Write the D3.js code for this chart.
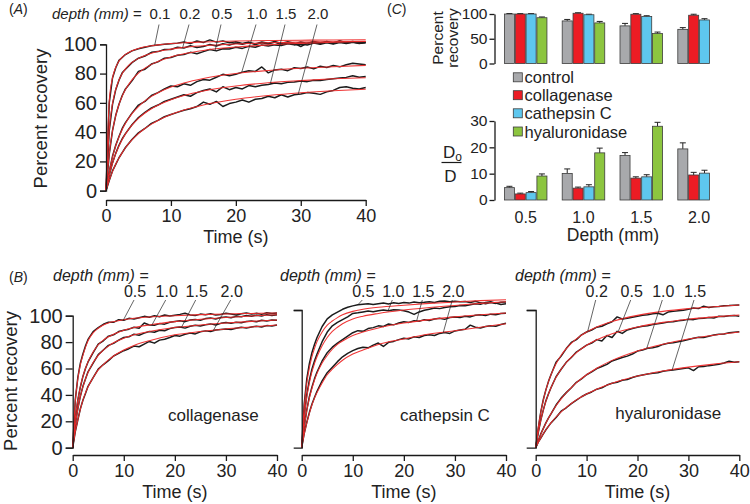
<!DOCTYPE html>
<html><head><meta charset="utf-8">
<script src="https://cdn.jsdelivr.net/npm/d3@7"></script>
<style>body{margin:0;background:#fff}svg{display:block}text{font-family:"Liberation Sans",Arial,Helvetica,sans-serif;fill:#222}</style>
</head><body><svg id="c" width="750" height="504"></svg>
<script>
// ---------- DATA ----------
const T_FIT  = [0,0.5,1,1.5,2,2.5,3,4,5,6,7,8,10,12,15,20,25,30,35,40];
const T_DATA = [0,0.5,1,1.5,2,2.5,3,4,5,6,7,8,9,10,11,12,13,14,15,16,17,18,19,20,21,22,23,24,25,26,27,28,29,30,31,32,33,34,35,36,37,38,39,40];
const X_TICKS = [0,10,20,30,40];
const Y_TICKS = [0,20,40,60,80,100];

// Panel A (control)
const A_DEPTHS = ["0.1","0.2","0.5","1.0","1.5","2.0"];
const A_FIT_01 = [0,61.2,77.0,84.3,88.5,91.2,93.1,95.6,97.2,98.3,99.0,99.6,100.5,101.1,101.6,102.2,102.6,102.8,103.0,103.1];
const A_FIT_02 = [0,41.6,59.4,69.3,75.6,80.0,83.2,87.6,90.4,92.4,93.9,95.1,96.7,97.9,99.0,100.2,101.0,101.5,101.8,102.1];
const A_FIT_05 = [0,25.2,40.8,51.3,58.9,64.6,69.1,75.7,80.3,83.7,86.3,88.3,91.4,93.5,95.8,98.1,99.6,100.6,101.4,101.9];
const A_FIT_10 = [0,13.1,23.0,30.7,36.8,41.8,46.0,52.6,57.5,61.3,64.4,66.9,70.8,73.6,76.7,80.0,82.1,83.6,84.7,85.6];
const A_FIT_15 = [0,10.5,18.7,25.2,30.5,35.0,38.8,44.8,49.4,53.1,56.0,58.4,62.2,65.0,68.1,71.5,73.7,75.2,76.4,77.2];
const A_FIT_20 = [0,7.1,13.0,18.0,22.3,26.0,29.3,34.7,39.0,42.5,45.5,48.0,52.0,55.1,58.5,62.4,65.0,66.9,68.3,69.3];
const A_DAT_01 = [0,60,77,84,89,91,93,95.5,97,98,99,99.5,100,100.3,100.8,101.5,100.6,102.2,101.2,103,101.5,102.3,101,101.8,100.6,101.5,100.2,101.6,100.8,102,100.5,101.8,100.7,98.5,100.8,101.6,100.4,102,101,102.3,100.8,101.5,100.5,101.2];
const A_DAT_02 = [0,41,59,69,75.5,80.5,83,87.5,90.5,92,94.5,95,96.5,96.5,98,97.5,99,97.8,98.5,99.8,98.8,100.4,99.5,100.8,100,101.2,99.8,101,100.2,101.5,99.6,101,100.2,101.6,100.5,102,101,101.8,100.6,102.2,101.2,102,101,101.5];
const A_DAT_05 = [0,25,41,51.5,59,65,69.5,75,81.5,83,86.5,88,90.5,91,92.5,93,94.5,93.5,95,96.5,95.5,97,96.8,98,97.2,98.6,98,99.5,98.8,99.6,99.2,100.4,99.6,100.2,99.5,100.8,100,101,100.2,101.2,100.5,101.4,100.7,101];
const A_DAT_10 = [0,13,23.5,31,37,42.5,46.5,53,58.5,61,65,67,69.5,71.5,71,73,72,74.5,76,75.5,77.5,79.5,78.5,79.5,81,82,81.5,84.5,80.5,82.5,83,82,84,83.5,84.5,83.2,85,84.2,85.5,84.6,86,87,86.5,86];
const A_DAT_15 = [0,10.5,19,25.5,31,35.5,39,45,50,53.5,56.5,58.5,61,62.5,64,65.5,64.5,67,68.5,69.5,67.5,71,69,70.5,69.5,71.8,71,72,72.5,73.5,73,74,74.2,75,74.5,75.5,75.2,76,76.5,77,77.4,78.5,77.5,78];
const A_DAT_20 = [0,7,13.5,18,22.5,26,29.5,35,39.5,42.5,46,48,50.5,52,53.5,55,56,57.5,60.5,59,61,57.5,59.5,60.5,62,60.5,62.5,63,64.5,63.5,65.5,64,65.5,66,67,66.5,65.8,67.5,68.5,70.5,71,70,69.5,70.5];

// Panel B: collagenase
const COL_DEPTHS = ["0.5","1.0","1.5","2.0"];
const COL_FIT_05 = [0,35,52,63,70,76,81,87,90.5,93,94.5,95.5,97,98,99,100,100.8,101.3,101.7,102];
const COL_FIT_10 = [0,22,36,46,54,60,65,72.5,78,81.5,84,86,89,91,93,95.5,97.3,98.7,99.8,100.7];
const COL_FIT_15 = [0,17,29,39,46,52,57,64.5,70,74,77,79.5,83,85.5,88,91,93,94.5,95.7,96.7];
const COL_FIT_20 = [0,12,21,29,36,41.5,46,53,59,63,66.5,69.5,74,77.5,81,85.5,88,90,91.5,93];
const COL_DAT_05 = [0,36,53,64,71,77,82,88,91,93.5,95,95,97,96.5,98,97.5,98.5,99.5,98.8,100,99.2,100.5,99.8,100.4,101,101.8,100.6,100.2,101.2,100.8,101.5,100.6,101,101.8,101.2,100.6,101.5,102,101.3,101.8,101,102.2,101.6,102];
const COL_DAT_10 = [0,22,36,46,54,60,65,72,78.5,81,84.5,85.5,88,89,89.8,91.2,90.5,94.5,93,92.8,94,93.6,95,95.6,96.2,95.5,96.8,97.2,96.6,97.8,98.2,97.5,98.6,99,98.4,99.5,99.2,100.2,99.6,100.4,99.8,100.8,100.2,100.8];
const COL_DAT_15 = [0,17,29.5,39,46.5,52,57.5,64,70.5,74,77.5,79,81.5,83.5,84,86,85.2,86.8,88,87.5,89,88.6,90.2,91,91.5,90.6,92,92.8,92.2,93.2,93.8,93,94.2,94.8,94.2,95,94.6,95.6,96,95.4,96.5,96,96.8,96.5];
const COL_DAT_20 = [0,12,21,29.5,36,41,46.5,53,59.5,63,66,69.5,71.5,73.5,75,77,76.5,78.5,80.5,79.2,81.5,82.2,83.5,85,84.5,86,86.8,86.2,87.8,88.5,88,89.2,89.6,90,89.5,90.5,91.2,90.6,91.5,92,91.4,92.5,92.2,93];

// Panel B: cathepsin C
const CAT_DEPTHS = ["0.5","1.0","1.5","2.0"];
const CAT_FIT_05 = [0,30,47,58,66,72,77,84,89,92,94.5,96.5,99,100.5,102,103.5,104.8,105.8,106.8,107.5];
const CAT_FIT_10 = [0,22,37,47,55,61,66,74,80,84.5,87.5,90,93.5,95.5,97.5,100,101.8,103.3,104.8,106];
const CAT_FIT_15 = [0,15,27,36,43,49,54,61.5,67,71.5,75,77.5,81.5,84,87,90.5,93,95,96.5,97.8];
const CAT_FIT_20 = [0,10,18,25,31,36,40,47,53,57,60.5,63.5,68,71,75,79,82.5,85,87.5,90];
const CAT_DAT_05 = [0,32,50,61,69,75,80,88,93.5,96.5,98.5,100.5,102,103,103.8,104.2,104.6,104,104.5,105,104.4,105.2,104.8,105.4,105,105.8,105.3,105.6,106,105.5,106.3,106.6,106,106.4,106,106.2,105.5,106.4,105.2,104.6,105.5,104.8,105.6,105.8];
const CAT_DAT_10 = [0,23,38.5,49,57,63,68,77,84,88.5,91,93,95,97.5,98,98.6,99.2,98.8,99.5,100,99.4,100.2,100,99.5,98.5,96.8,98.6,99.8,100.6,101.4,101,101.8,102.4,102.6,103.2,103,103.8,104.5,104.2,105.4,106,105,104,104.5];
const CAT_DAT_15 = [0,15.5,27.5,37,44,50,55,63,69,73,76,78.5,81,83.5,85,84.5,86.5,87.2,88.5,88,89.8,89.2,90.5,91.5,91,92.2,91.8,93,92.4,93.5,94,93.2,94.5,95,94.6,95.5,95,96.2,96.6,96,97,96.6,97.5,97.6];
const CAT_DAT_20 = [0,10.5,18.5,25.5,31.5,36.5,41,48.5,54.5,58.5,62.5,66,68.5,70.5,72,73,72.5,74.5,76,73.5,76.5,77.2,78.5,79.5,79,80.5,80,81.5,82,81.5,83,83.6,83,84.8,85.5,86,89,87.5,87,88,88.6,88.2,89.5,90.3];

// Panel B: hyaluronidase
const HYA_DEPTHS = ["0.2","0.5","1.0","1.5"];
const HYA_FIT_02 = [0,14.5,25.7,34.6,41.8,47.8,52.9,60.9,67.1,71.9,75.8,79.0,84.0,87.7,91.7,96.1,99.0,101.0,102.4,103.6];
const HYA_FIT_05 = [0,11.0,19.9,27.3,33.6,38.9,43.5,51.1,57.0,61.9,65.8,69.1,74.4,78.4,82.8,87.7,91.0,93.3,95.0,96.4];
const HYA_FIT_10 = [0,5.1,9.7,14.0,17.8,21.4,24.6,30.5,35.5,39.9,43.7,47.2,53.0,57.7,63.4,70.3,75.2,78.9,81.7,84.0];
const HYA_FIT_15 = [0,3.7,7.1,10.2,13.0,15.6,18.0,22.3,26.0,29.3,32.1,34.7,39.0,42.5,46.8,52.0,55.7,58.5,60.7,62.4];
const HYA_DAT_02 = [0,14,26,35,42,48,53,62,66.5,72,76.5,78.5,82,84,85.5,87.5,88.2,90,91.5,95,93.5,94,94.8,95.5,96.2,96.6,97.2,97.6,96.5,98.5,99,99.4,99.8,100.6,101.5,101,102.8,101.8,102.4,102.6,103,103.2,103.5,103.6];
const HYA_DAT_05 = [0,11,20,27.5,34,39,43.5,51.5,57,62,65.5,69.5,72,74.5,76,78.5,77.5,81.5,80,84.5,83,85.5,86.5,87.5,88.2,88.6,89.5,90,90.5,91.2,91.5,92.2,92.6,93.2,93,93.8,94,94.6,94.2,95.4,95.2,95.8,96,95.5];
const HYA_DAT_10 = [0,5,10,14,18,21.5,24.5,31,36,40,43.5,47.5,50,53,55,57.5,59,60.5,63,64.2,65.5,66.5,68,70.2,71,72.2,72.6,73.5,75,75.8,76.2,77,77.6,78.6,79.5,80.2,80,81,81.8,82.4,82.6,83.4,83.8,84.2];
const HYA_DAT_15 = [0,4,7,10,13,15.5,18,22,26.5,29,32,34.5,37,39,40.5,42.5,43.5,45.5,46.8,47.5,49,49.5,51,52,52.8,53.5,54,54.4,55.5,56,56.5,57,57.5,58,56,58.8,59,59.6,60,60.6,61.5,62.8,62,62.4];

// Panel C
const C_DEPTHS = ["0.5","1.0","1.5","2.0"];
const C_SERIES = ["control","collagenase","cathepsin C","hyaluronidase"];
const C_COLORS = ["#a8a9ac","#ec1c24","#5ec7ee","#8cc53f"];
const REC_CONTROL = [100,86,76,69];
const REC_COLLAGENASE = [100,101.5,99.5,97.5];
const REC_CATHEPSIN = [100,98.5,95,88];
const REC_HYALURONIDASE = [92.5,82,60.5,null];
const REC_ERR_CONTROL = [1,3,5,3.5];
const REC_ERR_COLLAGENASE = [0.8,1,1.2,2];
const REC_ERR_CATHEPSIN = [0.8,1,1.5,2.5];
const REC_ERR_HYALURONIDASE = [1.5,3,3,null];
const DD_CONTROL = [4.7,10.1,16.9,19.4];
const DD_COLLAGENASE = [2.3,4.5,8.3,9.5];
const DD_CATHEPSIN = [2.8,5.0,8.8,10.2];
const DD_HYALURONIDASE = [9.1,17.9,28,null];
const DD_ERR_CONTROL = [0.5,1.7,1.1,2.3];
const DD_ERR_COLLAGENASE = [0.3,0.4,0.5,1.0];
const DD_ERR_CATHEPSIN = [0.4,0.8,0.8,1.1];
const DD_ERR_HYALURONIDASE = [0.8,1.8,1.5,null];
const REC_TICKS = [0,50,100];
const DD_TICKS = [0,10,20,30];

// ---------- DRAWING ----------
const FONT = '"Liberation Sans", Arial, Helvetica, sans-serif';
const svg = d3.select("#c");
svg.append("rect").attr("width",750).attr("height",504).attr("fill","#fff");

const pts = (ts, vs) => ts.map((t,i)=>[t, vs[i]]);
function interp(ts, vs, t){
  for (let i=1;i<ts.length;i++) if (t<=ts[i]) { const f=(t-ts[i-1])/(ts[i]-ts[i-1]); return vs[i-1]+f*(vs[i]-vs[i-1]); }
  return vs[vs.length-1];
}
function axisStyle(g, fs){
  g.attr("font-family", FONT).attr("font-size", fs);
  g.selectAll(".domain,.tick line").attr("stroke","#1a1a1a").attr("stroke-width",1.3);
  g.selectAll("text").attr("fill","#222");
}
function txt(x,y,s,fs,opts={}){
  const t = svg.append("text").attr("x",x).attr("y",y).attr("font-size",fs).text(s);
  if (opts.anchor) t.attr("text-anchor",opts.anchor);
  if (opts.italic) t.attr("font-style","italic");
  if (opts.rotate) t.attr("transform",`rotate(-90,${x},${y})`);
  if (opts.central) t.attr("dominant-baseline","central");
  return t;
}
function panelLabel(x,y,letter){
  const t = svg.append("text").attr("x",x).attr("y",y).attr("font-size",14);
  t.append("tspan").text("(");
  t.append("tspan").attr("font-style","italic").text(letter);
  t.append("tspan").text(")");
}

function curvePanel(sp){
  const {x, y, fits, datas} = sp;
  const lg = d3.line().x(d=>x(d[0])).y(d=>y(d[1]));
  const fg = d3.line().x(d=>x(d[0])).y(d=>y(d[1])).curve(d3.curveMonotoneX);
  datas.forEach(v => svg.append("path").attr("d", lg(pts(T_DATA, v))).attr("fill","none")
    .attr("stroke","#1c1c1c").attr("stroke-width",1.5).attr("stroke-linejoin","round"));
  fits.forEach(v => svg.append("path").attr("d", fg(pts(T_FIT, v))).attr("fill","none")
    .attr("stroke","#ee2b2b").attr("stroke-width",1.05).attr("stroke-opacity",0.95));
  const gx = svg.append("g").attr("transform",`translate(0,${sp.xAxisY})`)
    .call(d3.axisBottom(x).tickValues(X_TICKS).tickSize(6).tickSizeOuter(0).tickPadding(3));
  axisStyle(gx, 18);
  const ya = d3.axisLeft(y).tickSizeOuter(0).tickSize(sp.yTickSize||6).tickPadding(3);
  if (sp.yLabels) ya.tickValues(Y_TICKS); else ya.tickValues([100]).tickFormat("");
  const gy = svg.append("g").attr("transform",`translate(${x(0)},0)`).call(ya);
  axisStyle(gy, 20);
  txt(sp.headerX, sp.headerY, "depth (mm) =", sp.annFs, {italic:true});
  sp.names.forEach((n,i)=>{
    txt(sp.centers[i], sp.numY, n, sp.annFs, {anchor:"middle"});
    const t = sp.targets[i];
    const v = interp(T_DATA, datas[i], t);
    svg.append("line").attr("x1", sp.centers[i]-1).attr("y1", sp.numY+sp.lead)
      .attr("x2", x(t)).attr("y2", y(v)).attr("stroke","#222").attr("stroke-width",0.7);
  });
  txt((x(0)+x(40))/2, sp.titleY, "Time (s)", 18, {anchor:"middle"});
}

// Panel A
const xA = d3.scaleLinear([0,40],[106,365.7]);
const yA = d3.scaleLinear([0,100],[190.7,44.3]);
curvePanel({x:xA, y:yA, xAxisY:200, yLabels:true,
  fits:[A_FIT_01,A_FIT_02,A_FIT_05,A_FIT_10,A_FIT_15,A_FIT_20],
  datas:[A_DAT_01,A_DAT_02,A_DAT_05,A_DAT_10,A_DAT_15,A_DAT_20],
  names:A_DEPTHS, centers:[160,190,222,257,286,318], targets:[7.5,11.8,16.8,20.9,25.3,29.6],
  headerX:52, headerY:18.5, numY:18.5, lead:6, annFs:15, titleY:243});
txt(40, 118.5, "Percent recovery", 18.5, {anchor:"middle", rotate:true, central:true});
panelLabel(9, 14, "A");

// Panel B
const yB1 = d3.scaleLinear([0,100],[447.7,315.7]);
const yB2 = d3.scaleLinear([0,100],[447.7,310]);
const xB1 = d3.scaleLinear([0,40],[72.7,277]);
const xB2 = d3.scaleLinear([0,40],[301.7,506]);
const xB3 = d3.scaleLinear([0,40],[535.7,739.3]);
curvePanel({x:xB1, y:yB1, xAxisY:455, yLabels:true, yTickSize:7,
  fits:[COL_FIT_05,COL_FIT_10,COL_FIT_15,COL_FIT_20], datas:[COL_DAT_05,COL_DAT_10,COL_DAT_15,COL_DAT_20],
  names:COL_DEPTHS, centers:[135,166.7,196.7,231.7], targets:[9.9,15.5,21.3,27.5],
  headerX:53, headerY:280.5, numY:297, lead:3, annFs:16, titleY:498});
curvePanel({x:xB2, y:yB2, xAxisY:455, yLabels:false, yTickSize:8,
  fits:[CAT_FIT_05,CAT_FIT_10,CAT_FIT_15,CAT_FIT_20], datas:[CAT_DAT_05,CAT_DAT_10,CAT_DAT_15,CAT_DAT_20],
  names:CAT_DEPTHS, centers:[363.3,393.3,423.3,453.3], targets:[11,16.9,22.5,27.7],
  headerX:280, headerY:280.5, numY:297, lead:3, annFs:16, titleY:498});
curvePanel({x:xB3, y:yB2, xAxisY:455, yLabels:false, yTickSize:9,
  fits:[HYA_FIT_02,HYA_FIT_05,HYA_FIT_10,HYA_FIT_15], datas:[HYA_DAT_02,HYA_DAT_05,HYA_DAT_10,HYA_DAT_15],
  names:HYA_DEPTHS, centers:[596.7,631.7,663.3,695], targets:[10.2,16.2,21.8,26.8],
  headerX:515, headerY:280.5, numY:297, lead:3, annFs:16, titleY:498});
txt(10, 381, "Percent recovery", 18.5, {anchor:"middle", rotate:true, central:true});
panelLabel(9, 282, "B");
txt(213.3, 421, "collagenase", 17, {anchor:"middle"});
txt(445, 421, "cathepsin C", 17, {anchor:"middle"});
txt(668.3, 419, "hyaluronidase", 17, {anchor:"middle"});

// Panel C
panelLabel(387, 14, "C");
const xG = d3.scaleBand(C_DEPTHS, [504, 720.75]).paddingInner(0.25).paddingOuter(0);
const xS = d3.scaleBand(C_SERIES, [0, xG.bandwidth()]).padding(0);
function barChart(y, vals, errs, ticks){
  const g = svg.append("g");
  C_SERIES.forEach((s,si)=>{
    C_DEPTHS.forEach((d,di)=>{
      const v = vals[si][di]; if (v==null) return;
      const bx = xG(d)+xS(s), bw = xS.bandwidth();
      const e = errs[si][di];
      g.append("line").attr("x1",bx+bw/2).attr("x2",bx+bw/2).attr("y1",y(v)).attr("y2",y(v+e)).attr("stroke","#222").attr("stroke-width",1);
      g.append("line").attr("x1",bx+bw/2-3).attr("x2",bx+bw/2+3).attr("y1",y(v+e)).attr("y2",y(v+e)).attr("stroke","#222").attr("stroke-width",1);
      g.append("rect").attr("x",bx+0.4).attr("width",bw-0.8).attr("y",y(v)).attr("height",y(0)-y(v))
        .attr("fill",C_COLORS[si]).attr("stroke","#3c3c3c").attr("stroke-width",0.8);
    });
  });
  const gy = svg.append("g").attr("transform","translate(494.5,0)")
    .call(d3.axisLeft(y).tickValues(ticks).tickSize(5).tickSizeOuter(0).tickPadding(2));
  axisStyle(gy, 15.5);
}
const yRec = d3.scaleLinear([0,100],[63.5,14]);
barChart(yRec, [REC_CONTROL,REC_COLLAGENASE,REC_CATHEPSIN,REC_HYALURONIDASE],
  [REC_ERR_CONTROL,REC_ERR_COLLAGENASE,REC_ERR_CATHEPSIN,REC_ERR_HYALURONIDASE], REC_TICKS);
const yDD = d3.scaleLinear([0,30],[200,121]);
barChart(yDD, [DD_CONTROL,DD_COLLAGENASE,DD_CATHEPSIN,DD_HYALURONIDASE],
  [DD_ERR_CONTROL,DD_ERR_COLLAGENASE,DD_ERR_CATHEPSIN,DD_ERR_HYALURONIDASE], DD_TICKS);
C_DEPTHS.forEach(d => txt(xG(d)+xG.bandwidth()/2, 222.5, d, 16, {anchor:"middle"}));
txt(613, 241, "Depth (mm)", 17.5, {anchor:"middle"});
txt(437, 38, "Percent", 15.5, {anchor:"middle", rotate:true, central:true});
txt(452, 38, "recovery", 15.5, {anchor:"middle", rotate:true, central:true});
const dt = svg.append("text").attr("x",443).attr("y",158).attr("font-size",17);
dt.append("tspan").text("D");
dt.append("tspan").attr("font-size",12).attr("dy",3).text("o");
svg.append("line").attr("x1",441.5).attr("x2",461.5).attr("y1",162.5).attr("y2",162.5).attr("stroke","#1a1a1a").attr("stroke-width",1.2);
txt(450.5, 181.5, "D", 17, {anchor:"middle"});
const LEG_Y = [77.3,95.2,113.3,131.5];
C_SERIES.forEach((s,i)=>{
  svg.append("rect").attr("x",513.3).attr("y",LEG_Y[i]-4.5).attr("width",9).attr("height",9)
    .attr("fill",C_COLORS[i]).attr("stroke","#3c3c3c").attr("stroke-width",0.8);
  txt(524.5, LEG_Y[i]+6, s, 16.5);
});
</script></body></html>
